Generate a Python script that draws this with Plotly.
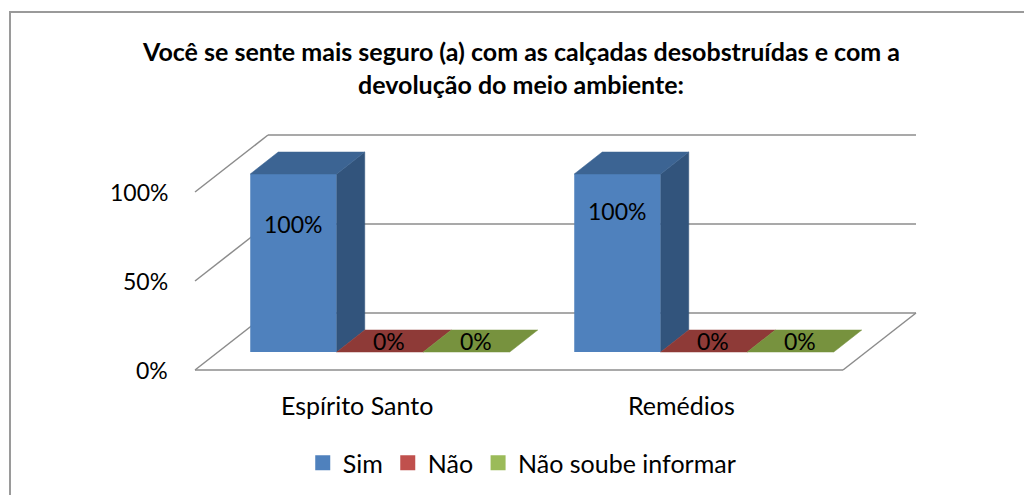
import plotly.graph_objects as go

# ---------------- data ----------------
categories = ["Espírito Santo", "Remédios"]
series_names = ["Sim", "Não", "Não soube informar"]
sim = [100, 100]
nao = [0, 0]
nao_soube = [0, 0]
tick_values = [0, 50, 100]
tick_labels = ["0%", "50%", "100%"]
title_lines = [
    "Você se sente mais seguro (a) com as calçadas desobstruídas e com a",
    "devolução do meio ambiente:",
]

# ---------------- styles ----------------
W, H = 1024, 495
PX_X, X0 = 324.0, 357.0      # pixels per category unit, pixel of category 0 (front plane)
PX_Y, Y0 = 1.78, 370.0       # pixels per percent point, pixel of 0% (front plane)
FULL_DX, FULL_DY = 73 / PX_X, 57 / PX_Y      # full floor depth
FRONT_DX, FRONT_DY = 23 / PX_X, 18 / PX_Y    # bar front-plane depth
BAR_DX, BAR_DY = 28 / PX_X, 22 / PX_Y        # bar thickness (depth)
BAR_W = 0.267
FONT = "Lato"
front_colors = ["#4F81BD", "#C0504D", "#9BBB59"]
top_colors = ["#3C6493", "#8E3A37", "#77923E"]
side_colors = ["#32547C", "#7A312F", "#62792F"]
grid_color = "#8C8C8C"
label_inset = [28, 21]   # how far the 100% labels sit below the bar top (percent units)

series = [sim, nao, nao_soube]

fig = go.Figure()

# ---------------- walls / floor ----------------
x_left, x_right = -0.5, len(categories) - 0.5
shapes = []
def seg(x0, y0, x1, y1, w=1.5):
    shapes.append(dict(type="line", xref="x", yref="y", x0=x0, y0=y0, x1=x1, y1=y1,
                       line=dict(color=grid_color, width=w), layer="below"))

for v in tick_values:
    seg(x_left + FULL_DX, v + FULL_DY, x_right + FULL_DX, v + FULL_DY)   # back wall
    seg(x_left, v, x_left + FULL_DX, v + FULL_DY)                        # side wall
seg(x_left, 0, x_right, 0)                                               # floor front
seg(x_right, 0, x_right + FULL_DX, FULL_DY)                              # floor right

# chart frame
shapes.append(dict(type="rect", xref="paper", yref="paper",
                   x0=10 / W, x1=1.05, y0=-0.05, y1=1 - 12 / H,
                   line=dict(color="#9A9A9A", width=2), layer="below"))

# ---------------- bars ----------------
annotations = []
for k, (name, vals) in enumerate(zip(series_names, series)):
    xs = [i + (k - 1) * BAR_W + FRONT_DX for i in range(len(categories))]
    for i, v in enumerate(vals):
        x0 = xs[i] - BAR_W / 2
        x1 = xs[i] + BAR_W / 2
        base = FRONT_DY
        top = base + v
        if v > 0:
            fig.add_trace(go.Scatter(
                x=[x1, x1, x1 + BAR_DX, x1 + BAR_DX, x1],
                y=[base, top, top + BAR_DY, base + BAR_DY, base],
                fill="toself", fillcolor=side_colors[k], mode="lines",
                line=dict(color=side_colors[k], width=0.5),
                hoverinfo="skip", showlegend=False))
        fig.add_trace(go.Scatter(
            x=[x0, x1, x1 + BAR_DX, x0 + BAR_DX, x0],
            y=[top, top, top + BAR_DY, top + BAR_DY, top],
            fill="toself", fillcolor=top_colors[k], mode="lines",
            line=dict(color=top_colors[k], width=0.5),
            hoverinfo="skip", showlegend=False))
        if v > 0:
            ax, ay = xs[i], top - label_inset[i]
        else:
            ax, ay = xs[i] + BAR_DX * 0.33, top + BAR_DY / 2
        annotations.append(dict(x=ax, y=ay, xref="x", yref="y", text=f"{v:g}%",
                                showarrow=False, font=dict(family=FONT, size=23, color="#000000"),
                                xanchor="center", yanchor="middle"))
    fig.add_trace(go.Bar(
        x=xs, y=vals, base=[FRONT_DY] * len(vals), width=BAR_W, name=name,
        marker=dict(color=front_colors[k], line=dict(width=0)),
        hoverinfo="skip", showlegend=False))
    # legend entry (square swatch)
    fig.add_trace(go.Scatter(
        x=[None], y=[None], mode="markers", name=name,
        marker=dict(symbol="square", size=15, color=front_colors[k], line=dict(width=0)),
        hoverinfo="skip", showlegend=True))

# y tick labels (front-left edge)
for v, t in zip(tick_values, tick_labels):
    annotations.append(dict(x=x_left, y=v, xref="x", yref="y", text=t, showarrow=False,
                            xanchor="right", yanchor="middle", xshift=-25,
                            font=dict(family=FONT, size=23, color="#000000")))
# category labels
for i, c in enumerate(categories):
    annotations.append(dict(x=i, y=0, xref="x", yref="y", text=c, showarrow=False,
                            xanchor="center", yanchor="middle", yshift=-35,
                            font=dict(family=FONT, size=25, color="#000000")))
# title
for j, line in enumerate(title_lines):
    annotations.append(dict(x=521 / W, y=1 - (51 + 33 * j) / H, xref="paper", yref="paper",
                            text=f"<b>{line}</b>", showarrow=False, xanchor="center",
                            yanchor="middle", font=dict(family=FONT, size=25, color="#000000")))

fig.update_layout(
    width=W, height=H, autosize=False,
    margin=dict(l=0, r=0, t=0, b=0, pad=0),
    paper_bgcolor="white", plot_bgcolor="white",
    barmode="overlay",
    xaxis=dict(range=[(0 - X0) / PX_X, (W - X0) / PX_X], visible=False, fixedrange=True),
    yaxis=dict(range=[(Y0 - H) / PX_Y, Y0 / PX_Y], visible=False, fixedrange=True),
    shapes=shapes,
    annotations=annotations,
    showlegend=True,
    legend=dict(orientation="h", x=0.51, xanchor="center", y=1 - 463 / H, yanchor="middle",
                font=dict(family=FONT, size=25, color="#000000"), traceorder="normal",
                itemsizing="trace", bgcolor="rgba(0,0,0,0)"),
)

fig.write_html("out.html", config={"displayModeBar": False},
               post_script="document.body.style.margin='0';")
